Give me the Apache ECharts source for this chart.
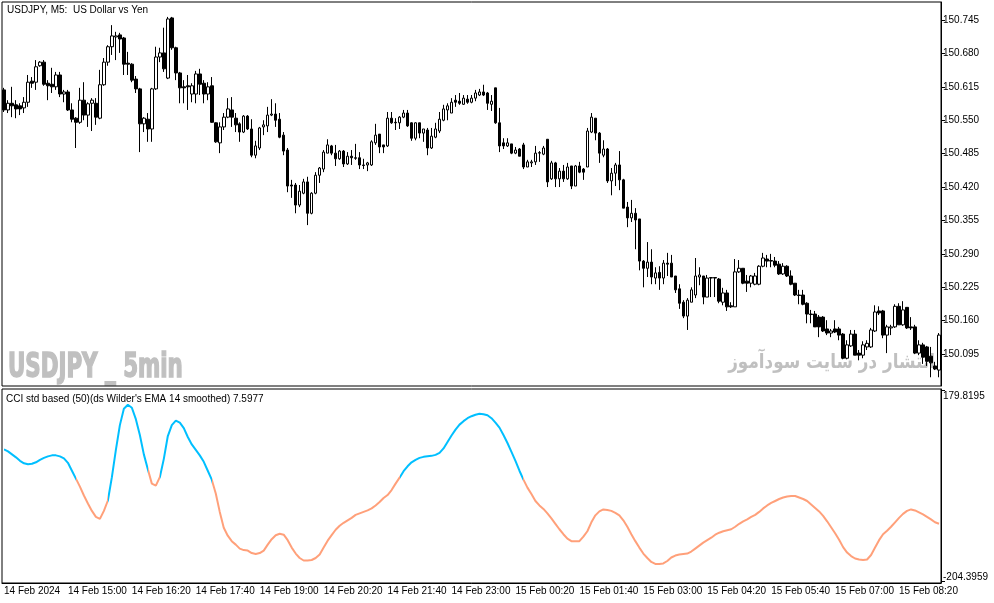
<!DOCTYPE html>
<html>
<head>
<meta charset="utf-8">
<script src="https://cdn.jsdelivr.net/npm/echarts@6/dist/echarts.min.js"></script>
<style>
html, body { margin: 0; padding: 0; background: #fff; }
#main { width: 994px; height: 603px; }
</style>
</head>
<body>
<div id="main"></div>
<script>
// USDJPY M5 candles, 14 Feb 13:40 -> 15 Feb 09:10
var opens = [150.609,150.570,150.583,150.580,150.578,150.574,150.585,150.626,150.624,150.656,
150.663,150.622,150.620,150.615,150.638,150.601,150.605,150.570,150.554,150.546,
150.589,150.560,150.583,150.583,150.554,150.619,150.663,150.693,150.712,150.716,
150.710,150.661,150.659,150.630,150.611,150.543,150.552,150.533,150.611,150.673,
150.681,150.632,150.749,150.691,150.642,150.615,150.617,150.601,150.601,150.640,
150.622,150.601,150.617,150.545,150.506,150.537,150.556,150.570,150.554,150.543,
150.527,150.558,150.533,150.482,150.496,150.537,150.539,150.560,150.562,150.552,
150.521,150.492,150.424,150.424,150.385,150.408,150.430,150.369,150.408,150.443,
150.455,150.486,150.500,150.486,150.475,150.490,150.465,150.480,150.477,150.477,
150.463,150.463,150.463,150.506,150.523,150.502,150.500,150.554,150.546,150.545,
150.556,150.564,150.545,150.515,150.545,150.525,150.531,150.496,150.517,150.529,
150.550,150.570,150.564,150.589,150.587,150.581,150.591,150.585,150.593,150.599,
150.605,150.603,150.581,150.613,150.545,150.506,150.500,150.504,150.486,150.494,
150.502,150.459,150.467,150.469,150.486,150.484,150.513,150.436,150.467,150.436,
150.451,150.436,150.461,150.422,150.461,150.455,150.459,150.527,150.554,150.525,
150.482,150.494,150.432,150.447,150.463,150.434,150.381,150.360,150.369,150.358,
150.276,150.262,150.274,150.243,150.254,150.243,150.272,150.272,150.247,150.222,
150.196,150.169,150.196,150.210,150.245,150.247,150.206,150.243,150.244,150.241,
150.196,150.214,150.189,150.187,150.255,150.262,150.237,150.233,150.231,150.231,
150.266,150.280,150.277,150.276,150.270,150.251,150.266,150.247,150.233,150.210,
150.210,150.194,150.173,150.173,150.167,150.167,150.144,150.136,150.144,150.144,
150.134,150.087,150.111,150.134,150.097,150.093,150.109,150.109,150.140,150.179,
150.179,150.132,150.146,150.148,150.188,150.152,150.186,150.148,150.148,150.097,
150.113,150.109,150.091,150.072,150.064];
var closes = [150.570,150.583,150.578,150.572,150.572,150.585,150.624,150.622,150.654,150.663,
150.620,150.617,150.615,150.638,150.601,150.605,150.570,150.552,150.546,150.589,
150.560,150.582,150.589,150.556,150.619,150.663,150.693,150.714,150.714,150.708,
150.659,150.659,150.628,150.611,150.543,150.554,150.533,150.611,150.673,150.681,
150.650,150.747,150.691,150.642,150.613,150.613,150.615,150.617,150.640,150.620,
150.601,150.615,150.546,150.508,150.537,150.556,150.572,150.556,150.541,150.527,
150.558,150.533,150.482,150.500,150.535,150.541,150.560,150.562,150.550,150.517,
150.490,150.422,150.422,150.385,150.412,150.430,150.369,150.408,150.443,150.457,
150.488,150.502,150.486,150.475,150.490,150.465,150.480,150.477,150.476,150.463,
150.462,150.467,150.508,150.521,150.498,150.498,150.554,150.545,150.545,150.556,
150.564,150.539,150.515,150.545,150.525,150.533,150.496,150.519,150.533,150.552,
150.572,150.578,150.585,150.585,150.583,150.593,150.585,150.593,150.603,150.605,
150.599,150.583,150.587,150.545,150.500,150.500,150.506,150.486,150.492,150.480,
150.459,150.469,150.469,150.486,150.487,150.496,150.430,150.467,150.436,150.451,
150.436,150.459,150.422,150.461,150.449,150.449,150.529,150.556,150.525,150.486,
150.494,150.432,150.447,150.463,150.434,150.379,150.360,150.369,150.356,150.276,
150.262,150.274,150.245,150.253,150.243,150.272,150.270,150.245,150.220,150.194,
150.169,150.200,150.220,150.247,150.249,150.206,150.243,150.244,150.243,150.198,
150.214,150.187,150.187,150.255,150.262,150.233,150.233,150.247,150.247,150.266,
150.282,150.276,150.276,150.268,150.251,150.266,150.247,150.231,150.210,150.209,
150.192,150.173,150.172,150.148,150.148,150.140,150.136,150.140,150.138,150.132,
150.087,150.113,150.134,150.093,150.093,150.113,150.116,150.142,150.177,150.175,
150.132,150.148,150.148,150.188,150.152,150.181,150.146,150.146,150.097,150.113,
150.089,150.081,150.078,150.066,150.132];
var lows = [150.566,150.564,150.556,150.554,150.560,150.564,150.576,150.613,150.609,150.654,
150.617,150.589,150.603,150.609,150.595,150.585,150.568,150.546,150.496,150.543,
150.550,150.537,150.529,150.541,150.552,150.617,150.656,150.677,150.667,150.681,
150.638,150.638,150.624,150.603,150.488,150.527,150.508,150.508,150.609,150.663,
150.644,150.630,150.687,150.628,150.583,150.583,150.570,150.585,150.583,150.599,
150.583,150.589,150.545,150.506,150.486,150.531,150.554,150.537,150.527,150.508,
150.525,150.531,150.478,150.476,150.492,150.521,150.527,150.558,150.537,150.515,
150.482,150.410,150.399,150.369,150.381,150.406,150.346,150.367,150.406,150.428,
150.449,150.486,150.482,150.461,150.473,150.459,150.463,150.463,150.473,150.455,
150.455,150.451,150.461,150.502,150.486,150.486,150.498,150.543,150.531,150.533,
150.554,150.537,150.510,150.511,150.515,150.508,150.482,150.494,150.515,150.525,
150.548,150.550,150.564,150.576,150.580,150.580,150.582,150.583,150.587,150.597,
150.597,150.570,150.568,150.543,150.488,150.494,150.498,150.484,150.484,150.480,
150.455,150.459,150.459,150.463,150.469,150.482,150.420,150.434,150.420,150.420,
150.430,150.434,150.416,150.422,150.447,150.434,150.459,150.525,150.511,150.467,
150.478,150.428,150.404,150.422,150.414,150.379,150.342,150.352,150.299,150.258,
150.225,150.245,150.231,150.231,150.220,150.231,150.247,150.245,150.214,150.183,
150.165,150.142,150.196,150.204,150.229,150.192,150.206,150.206,150.206,150.194,
150.190,150.179,150.185,150.187,150.253,150.231,150.216,150.225,150.229,150.229,
150.264,150.264,150.264,150.264,150.249,150.249,150.245,150.229,150.208,150.192,
150.190,150.155,150.155,150.148,150.128,150.138,150.132,150.128,150.136,150.122,
150.085,150.085,150.109,150.093,150.083,150.087,150.103,150.107,150.138,150.171,
150.126,150.097,150.132,150.146,150.152,150.150,150.144,150.142,150.095,150.093,
150.076,150.072,150.050,150.064,150.050];
var highs = [150.613,150.589,150.615,150.589,150.583,150.595,150.638,150.634,150.667,150.665,
150.667,150.628,150.652,150.644,150.644,150.609,150.609,150.583,150.556,150.613,
150.624,150.585,150.593,150.593,150.648,150.671,150.696,150.735,150.722,150.720,
150.712,150.683,150.661,150.636,150.613,150.556,150.564,150.613,150.693,150.691,
150.730,150.751,150.751,150.693,150.644,150.628,150.638,150.622,150.646,150.650,
150.628,150.624,150.634,150.546,150.546,150.564,150.593,150.595,150.564,150.546,
150.560,150.560,150.552,150.510,150.537,150.550,150.576,150.591,150.583,150.564,
150.527,150.496,150.434,150.428,150.424,150.436,150.440,150.410,150.449,150.459,
150.492,150.513,150.502,150.502,150.492,150.492,150.488,150.492,150.504,150.488,
150.475,150.469,150.511,150.543,150.523,150.502,150.566,150.566,150.554,150.558,
150.570,150.570,150.546,150.546,150.545,150.533,150.535,150.535,150.545,150.566,
150.580,150.583,150.593,150.599,150.603,150.599,150.599,150.599,150.609,150.611,
150.619,150.605,150.599,150.613,150.574,150.515,150.515,150.504,150.498,150.496,
150.506,150.473,150.473,150.500,150.490,150.500,150.513,150.471,150.469,150.457,
150.463,150.467,150.461,150.463,150.469,150.457,150.535,150.564,150.554,150.527,
150.511,150.496,150.457,150.467,150.490,150.436,150.391,150.395,150.379,150.358,
150.278,150.313,150.299,150.264,150.266,150.278,150.292,150.288,150.247,150.231,
150.200,150.204,150.225,150.282,150.264,150.247,150.249,150.245,150.245,150.243,
150.224,150.220,150.196,150.280,150.278,150.262,150.249,150.249,150.253,150.268,
150.292,150.288,150.290,150.284,150.276,150.272,150.268,150.258,150.233,150.220,
150.220,150.196,150.181,150.179,150.171,150.169,150.161,150.144,150.161,150.148,
150.136,150.122,150.142,150.142,150.103,150.120,150.122,150.146,150.190,150.188,
150.181,150.152,150.152,150.192,150.194,150.198,150.186,150.167,150.152,150.122,
150.117,150.111,150.109,150.080,150.136];

// CCI std based (50), Wilder's EMA 14 smoothed
var cci = [61,57,51,45,38,33,31,32,35,40,
44,47,49,49,47,43,34,18,2,-14,
-32,-48,-63,-75,-79,-63,-42,5,60,110,
143,151,145,122,90,51,21,-8,-12,5,
42,88,110,119,115,104,86,71,60,49,
36,18,0,-28,-65,-97,-113,-124,-131,-139,
-142,-143,-148,-150,-148,-143,-131,-120,-112,-109,
-111,-122,-137,-149,-158,-163,-163,-162,-158,-151,
-137,-123,-112,-101,-93,-87,-82,-77,-71,-68,
-65,-62,-58,-52,-45,-37,-31,-21,-8,4,
17,27,35,40,44,46,47,48,50,54,
63,76,89,101,111,118,124,128,131,133,
132,130,124,115,105,90,74,56,38,18,
0,-16,-29,-43,-52,-59,-68,-78,-89,-100,
-110,-119,-124,-124,-124,-115,-104,-86,-72,-64,
-60,-61,-63,-67,-72,-82,-95,-110,-124,-137,
-149,-158,-166,-170,-170,-169,-164,-157,-153,-151,
-150,-149,-145,-139,-133,-127,-122,-117,-111,-107,
-104,-102,-100,-95,-89,-84,-80,-75,-71,-65,
-58,-52,-47,-43,-39,-36,-34,-33,-33,-36,
-39,-43,-50,-57,-64,-73,-84,-96,-108,-121,
-136,-147,-154,-159,-161,-162,-161,-152,-137,-122,
-110,-103,-95,-86,-77,-69,-63,-60,-62,-66,
-70,-75,-80,-86,-89];
// bar positions where the line switches colour (starts blue)
var colorBreaks = [17.75, 26, 35.75, 38.75, 51.75, 98.75, 129.75];
var lineColors = ['#00BFFF', '#FFA07A'];

var timeLabels = ['14 Feb 2024', '14 Feb 15:00', '14 Feb 16:20', '14 Feb 17:40', '14 Feb 19:00',
  '14 Feb 20:20', '14 Feb 21:40', '14 Feb 23:00', '15 Feb 00:20', '15 Feb 01:40',
  '15 Feb 03:00', '15 Feb 04:20', '15 Feb 05:40', '15 Feb 07:00', '15 Feb 08:20'];
var labelStep = 16;
var priceTicks = [150.095, 150.160, 150.225, 150.290, 150.355, 150.420, 150.485, 150.550, 150.615, 150.680, 150.745];
var cciTicks = [179.8195, -204.3959];

var chart = echarts.init(document.getElementById('main'));
var font = 'Liberation Sans, Arial, sans-serif';

var cats = [];
var candles = [];
for (var i = 0; i < opens.length; i++) {
    cats.push(i);
    candles.push([opens[i], closes[i], lows[i], highs[i]]);
}

var pieces = [];
var lo = 0;
for (var k = 0; k <= colorBreaks.length; k++) {
    var hi = k < colorBreaks.length ? colorBreaks[k] : opens.length;
    pieces.push({ gte: lo, lt: hi, color: lineColors[k % 2] });
    lo = hi;
}

function showTick(idx) { return idx % labelStep === 0; }

var option = {
    animation: false,
    backgroundColor: '#fff',
    grid: [
        { left: 2, top: 2, width: 939, height: 384, show: true, borderColor: '#000', borderWidth: 1 },
        { left: 2, top: 389, width: 939, height: 194, show: true, borderColor: '#000', borderWidth: 1 }
    ],
    xAxis: [
        { type: 'category', gridIndex: 0, data: cats, show: false },
        {
            type: 'category', gridIndex: 1, data: cats,
            axisLine: { onZero: false, lineStyle: { color: '#000' } },
            axisTick: { interval: showTick, length: 5, lineStyle: { color: '#000' } },
            axisLabel: {
                interval: showTick, align: 'left', margin: 3,
                fontFamily: font, fontSize: 10, color: '#000',
                formatter: function (v, idx) { return timeLabels[idx / labelStep] || ''; }
            }
        }
    ],
    yAxis: [
        {
            type: 'value', gridIndex: 0, position: 'right', scale: true,
            min: 150.033, max: 150.780,
            splitLine: { show: false },
            axisLine: { show: true, lineStyle: { color: '#000' } },
            axisTick: { show: true, length: 4, customValues: priceTicks, lineStyle: { color: '#000' } },
            axisLabel: {
                customValues: priceTicks, margin: 2, fontFamily: font, fontSize: 10, color: '#000',
                formatter: function (v) { return v.toFixed(3); }
            }
        },
        {
            type: 'value', gridIndex: 1, position: 'right',
            min: -208.4, max: 182.85,
            splitLine: { show: false },
            axisLine: { show: true, lineStyle: { color: '#000' } },
            axisTick: { show: true, length: 4, customValues: cciTicks, lineStyle: { color: '#000' } },
            axisLabel: {
                customValues: cciTicks, margin: 2, fontFamily: font, fontSize: 10, color: '#000',
                formatter: function (v) {
                    return (v > 0 ? '{t|' : '{b|') + v.toFixed(4) + '}';
                },
                rich: {
                    t: { fontFamily: font, fontSize: 10, color: '#000', padding: [11, 0, 0, 0] },
                    b: { fontFamily: font, fontSize: 10, color: '#000', padding: [0, 0, 7, 0] }
                }
            }
        }
    ],
    visualMap: {
        show: false, type: 'piecewise', dimension: 0, seriesIndex: 1, pieces: pieces
    },
    series: [
        {
            type: 'candlestick', xAxisIndex: 0, yAxisIndex: 0, data: candles, barWidth: 3, z: 5,
            itemStyle: { color: '#fff', color0: '#000', borderColor: '#000', borderColor0: '#000', borderWidth: 1 }
        },
        {
            type: 'line', xAxisIndex: 1, yAxisIndex: 1, data: cci,
            showSymbol: false, symbol: 'none', lineStyle: { width: 2 }
        }
    ],
    graphic: [
        { type: 'text', x: 7, y: 5, style: { text: 'USDJPY, M5:  US Dollar vs Yen', fontFamily: font, fontSize: 10, fill: '#000' } },
        { type: 'text', x: 6, y: 394, style: { text: "CCI std based (50)(ds Wilder's EMA 14 smoothed) 7.5977", fontFamily: font, fontSize: 10, fill: '#000' } },
        { type: 'text', x: 8, y: 352, z: -1, scaleX: 0.72, style: { text: 'USDJPY _ 5min', fontFamily: 'DejaVu Sans Condensed, DejaVu Sans', fontWeight: 'bold', fontSize: 33, fill: '#c0c0c0', stroke: '#c0c0c0', lineWidth: 1.5 } },
        { type: 'text', x: 935, y: 353, z: -1, scaleX: 0.84, style: { text: 'انتشار در سایت سودآموز', align: 'right', fontFamily: 'DejaVu Sans', fontWeight: 'bold', fontSize: 20, fill: '#c0c0c0' } }
    ]
};
chart.setOption(option);
</script>
</body>
</html>
